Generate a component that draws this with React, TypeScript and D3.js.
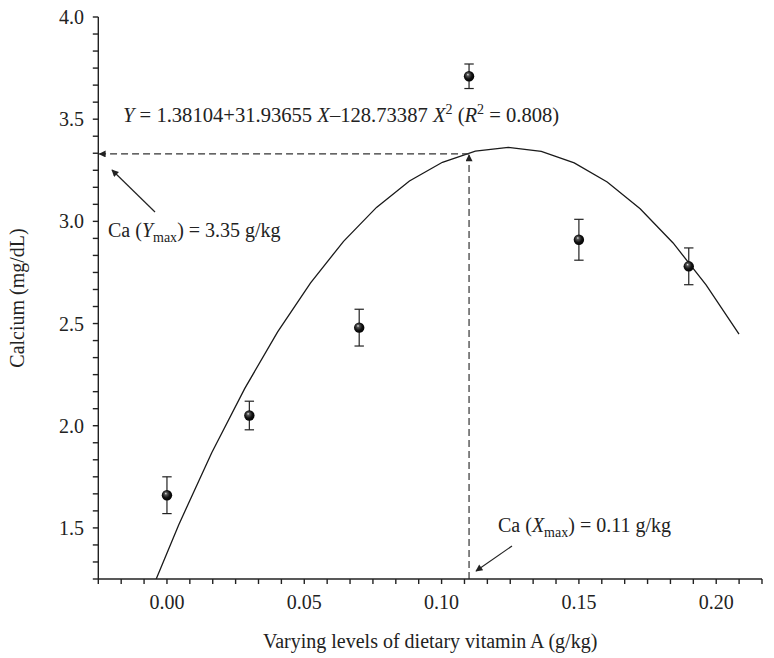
import React from "react";
import * as d3 from "d3";

// vitamin A levels (g/kg) and measured serum calcium (mg/dL)
const doses = [0, 0.03, 0.07, 0.11, 0.15, 0.19];
const calcium = [1.66, 2.05, 2.48, 3.71, 2.91, 2.78];
const calciumErr = [0.09, 0.07, 0.09, 0.06, 0.1, 0.09];

// vertices of the fitted quadratic as drawn in the figure
const fitX = [-0.0077, 0.0043, 0.0163, 0.0283, 0.0403, 0.0523, 0.0643, 0.0763, 0.0883, 0.1003,
  0.1123, 0.1243, 0.1363, 0.1483, 0.1603, 0.1723, 0.1843, 0.1963, 0.2083];
const fitY = [1.1275, 1.516, 1.8674, 2.1817, 2.459, 2.6992, 2.9023, 3.0684, 3.1973, 3.2892,
  3.344, 3.3617, 3.3424, 3.286, 3.1925, 3.062, 2.8943, 2.6896, 2.4479];

const xTicks = [0, 0.05, 0.1, 0.15, 0.2];
const yTicks = [1.5, 2.0, 2.5, 3.0, 3.5, 4.0];
const optX = 0.11;
const optY = 3.33;

const W = 774;
const H = 658;
const font = "'Liberation Serif', 'Times New Roman', serif";

const App = () => {
  const x = d3.scaleLinear().domain([-0.025, 0.21667]).range([98.3, 762]);
  const y = d3.scaleLinear().domain([1.25, 4.0]).range([579, 17]);
  const [x0, x1] = x.range();
  const [yb, yt] = y.range();

  const xMinor = d3.range(-0.025, 0.2167 + 1e-6, 0.05 / 6);
  const yMinor = d3.range(1.25, 4.0 + 1e-6, 0.5 / 6);

  const line = d3.line<number>().x((d, i) => x(fitX[i])).y((d) => y(d));

  return (
    <svg width={W} height={H} style={{ position: "absolute", left: 0, top: 0, background: "#fff" }}
      fontFamily={font}>
      <defs>
        <clipPath id="plot">
          <rect x={x0} y={yt} width={x1 - x0} height={yb - yt} />
        </clipPath>
        <radialGradient id="ball" cx="45%" cy="45%" r="60%" fx="38%" fy="32%">
          <stop offset="0%" stopColor="#e8e8e8" />
          <stop offset="22%" stopColor="#555" />
          <stop offset="60%" stopColor="#111" />
          <stop offset="100%" stopColor="#000" />
        </radialGradient>
        <marker id="arr" viewBox="0 0 10 10" refX="9" refY="5" markerWidth="9" markerHeight="7"
          markerUnits="userSpaceOnUse" orient="auto">
          <path d="M0,0 L10,5 L0,10 Z" fill="#222" />
        </marker>
      </defs>

      {/* fitted curve */}
      <path d={line(fitY) || ""} fill="none" stroke="#1a1a1a" strokeWidth={1.3} clipPath="url(#plot)" />

      {/* optimum guides */}
      <line x1={x(optX)} y1={y(optY)} x2={x0 + 1} y2={y(optY)} stroke="#333" strokeWidth={1.2}
        strokeDasharray="7 4" markerEnd="url(#arr)" />
      <line x1={x(optX)} y1={yb} x2={x(optX)} y2={y(optY) + 1} stroke="#333" strokeWidth={1.2}
        strokeDasharray="7 4" markerEnd="url(#arr)" />

      {/* error bars + points */}
      {doses.map((d, i) => {
        const cx = x(d);
        const hi = y(calcium[i] + calciumErr[i]);
        const lo = y(calcium[i] - calciumErr[i]);
        return (
          <g key={i} stroke="#222" strokeWidth={1.2}>
            <line x1={cx} x2={cx} y1={hi} y2={lo} />
            <line x1={cx - 4.7} x2={cx + 4.7} y1={hi} y2={hi} />
            <line x1={cx - 4.7} x2={cx + 4.7} y1={lo} y2={lo} />
            <circle cx={cx} cy={y(calcium[i])} r={5.2} fill="url(#ball)" stroke="none" />
          </g>
        );
      })}

      {/* axes */}
      <g stroke="#222" strokeWidth={1.4}>
        <line x1={x0} x2={x0} y1={yt} y2={yb} />
        <line x1={x0} x2={x1} y1={yb} y2={yb} />
        {xMinor.map((t, i) => (
          <line key={"xm" + i} x1={x(t)} x2={x(t)} y1={yb} y2={yb + 5} />
        ))}
        {yMinor.map((t, i) => (
          <line key={"ym" + i} x1={x0} x2={x0 - 5.5} y1={y(t)} y2={y(t)} />
        ))}
      </g>
      <g fontSize={20} fill="#222">
        {xTicks.map((t) => (
          <text key={"xl" + t} x={x(t)} y={609} textAnchor="middle">{d3.format(".2f")(t)}</text>
        ))}
        {yTicks.map((t) => (
          <text key={"yl" + t} x={84} y={y(t)} dy="0.35em" textAnchor="end">{d3.format(".1f")(t)}</text>
        ))}
        <text x={(x0 + x1) / 2} y={648} textAnchor="middle">Varying levels of dietary vitamin A (g/kg)</text>
        <text transform={`translate(24,${(yt + yb) / 2}) rotate(-90)`} textAnchor="middle">Calcium (mg/dL)</text>
      </g>

      {/* equation */}
      <text x={123} y={122} fontSize={20.6} fill="#222">
        <tspan fontStyle="italic">Y</tspan> = 1.38104+31.93655 <tspan fontStyle="italic">X</tspan>–128.73387{" "}
        <tspan fontStyle="italic">X</tspan>
        <tspan fontSize={14} dy={-8}>2</tspan>
        <tspan dy={8}> (</tspan>
        <tspan fontStyle="italic">R</tspan>
        <tspan fontSize={14} dy={-8}>2</tspan>
        <tspan dy={8}> = 0.808)</tspan>
      </text>

      {/* Ymax annotation */}
      <line x1={155} y1={212} x2={112} y2={170} stroke="#222" strokeWidth={1.2} markerEnd="url(#arr)" />
      <text x={108} y={237} fontSize={20} fill="#222">
        Ca (<tspan fontStyle="italic">Y</tspan>
        <tspan fontSize={14} dy={5}>max</tspan>
        <tspan dy={-5}>) = 3.35 g/kg</tspan>
      </text>

      {/* Xmax annotation */}
      <line x1={512} y1={546} x2={476} y2={571} stroke="#222" strokeWidth={1.2} markerEnd="url(#arr)" />
      <text x={498} y={532} fontSize={20} fill="#222">
        Ca (<tspan fontStyle="italic">X</tspan>
        <tspan fontSize={14} dy={5}>max</tspan>
        <tspan dy={-5}>) = 0.11 g/kg</tspan>
      </text>
    </svg>
  );
};

export default App;
